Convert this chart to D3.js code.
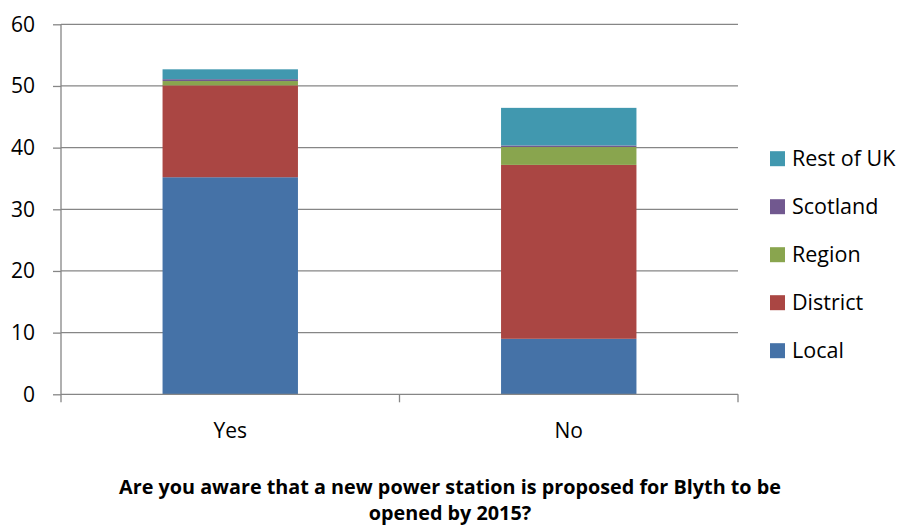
<!DOCTYPE html>
<html><head><meta charset="utf-8">
<script src="https://cdn.jsdelivr.net/npm/d3@7"></script>
<style>body{margin:0;background:#fff}svg{display:block}</style>
</head><body>
<svg id="c" width="905" height="532"></svg>
<script>
const categories = ["Yes", "No"];
const seriesNames = ["Local", "District", "Region", "Scotland", "Rest of UK"];
const local = [35.2, 9.0];
const district = [14.9, 28.2];
const region = [0.7, 2.9];
const scotland = [0.3, 0.25];
const restOfUK = [1.6, 6.1];
const yTicks = [0, 10, 20, 30, 40, 50, 60];
const colors = ["#4572A7", "#AA4643", "#89A54E", "#71588F", "#4198AF"];
const titleLines = ["Are you aware that a new power station is proposed for Blyth to be", "opened by 2015?"];

const seriesValues = [local, district, region, scotland, restOfUK];
const rows = categories.map((c, i) => {
  const r = {cat: c};
  seriesNames.forEach((s, j) => r[s] = seriesValues[j][i]);
  return r;
});
const stacked = d3.stack().keys(seriesNames)(rows);

const svg = d3.select("#c");
const font = "'Open Sans', sans-serif";
const L = 61, R = 738, T = 24.3, B = 394.3;
const x = d3.scaleBand().domain(categories).range([L, R]).padding(0);
const y = d3.scaleLinear().domain([0, 60]).range([B, T]);
const barW = x.bandwidth() * 0.4;

// gridlines
svg.append("g").selectAll("line").data(yTicks.filter(t => t > 0)).join("line")
  .attr("x1", L).attr("x2", R).attr("y1", d => y(d)).attr("y2", d => y(d))
  .attr("stroke", "#868686").attr("stroke-width", 1.3);

// bars
svg.append("g").selectAll("g").data(stacked).join("g")
  .attr("fill", (d, i) => colors[i])
  .selectAll("rect").data(d => d).join("rect")
  .attr("x", d => x(d.data.cat) + (x.bandwidth() - barW) / 2)
  .attr("width", barW)
  .attr("y", d => y(d[1]))
  .attr("height", d => y(d[0]) - y(d[1]));

// y axis
const yAxis = svg.append("g").attr("transform", `translate(${L},0)`)
  .call(d3.axisLeft(y).tickValues(yTicks).tickSize(8).tickPadding(18));
yAxis.select(".domain").attr("stroke", "#868686").attr("stroke-width", 1.3).attr("d", `M0,${T}V${B}`);
yAxis.selectAll(".tick line").attr("stroke", "#868686").attr("stroke-width", 1.3);
yAxis.selectAll(".tick text").attr("font-family", font).attr("font-size", 21).attr("fill", "#000");

// x axis
const xAxis = svg.append("g").attr("transform", `translate(0,${B})`)
  .call(d3.axisBottom(x).tickSize(0).tickPadding(29));
xAxis.select(".domain").attr("stroke", "#868686").attr("stroke-width", 1.3).attr("d", `M${L},0H${R}`);
xAxis.selectAll(".tick text").attr("font-family", font).attr("font-size", 21).attr("fill", "#000");
// category boundary ticks
const bounds = [L, ...categories.map(c => x(c) + x.bandwidth())];
xAxis.append("g").selectAll("line").data(bounds).join("line")
  .attr("x1", d => d).attr("x2", d => d).attr("y1", 0).attr("y2", 8)
  .attr("stroke", "#868686").attr("stroke-width", 1.3);

// legend
const leg = svg.append("g").attr("transform", "translate(770,0)");
const legOrder = seriesNames.slice().reverse();
const legY = d3.scalePoint().domain(legOrder).range([158.7, 350.7]);
legOrder.forEach(name => {
  const i = seriesNames.indexOf(name);
  const g = leg.append("g").attr("transform", `translate(0,${legY(name)})`);
  g.append("rect").attr("x", 0).attr("y", -7.5).attr("width", 15).attr("height", 15).attr("fill", colors[i]);
  g.append("text").attr("x", 22).attr("y", 0).attr("dy", "0.35em")
    .attr("font-family", font).attr("font-size", 21.5).attr("fill", "#000").text(name);
});

// title
svg.append("g").selectAll("text").data(titleLines).join("text")
  .attr("x", 450).attr("y", (d, i) => 494 + i * 26)
  .attr("text-anchor", "middle").attr("font-family", font).attr("font-weight", "bold")
  .attr("font-size", 19.8).attr("fill", "#000").text(d => d);
</script>
</body></html>
